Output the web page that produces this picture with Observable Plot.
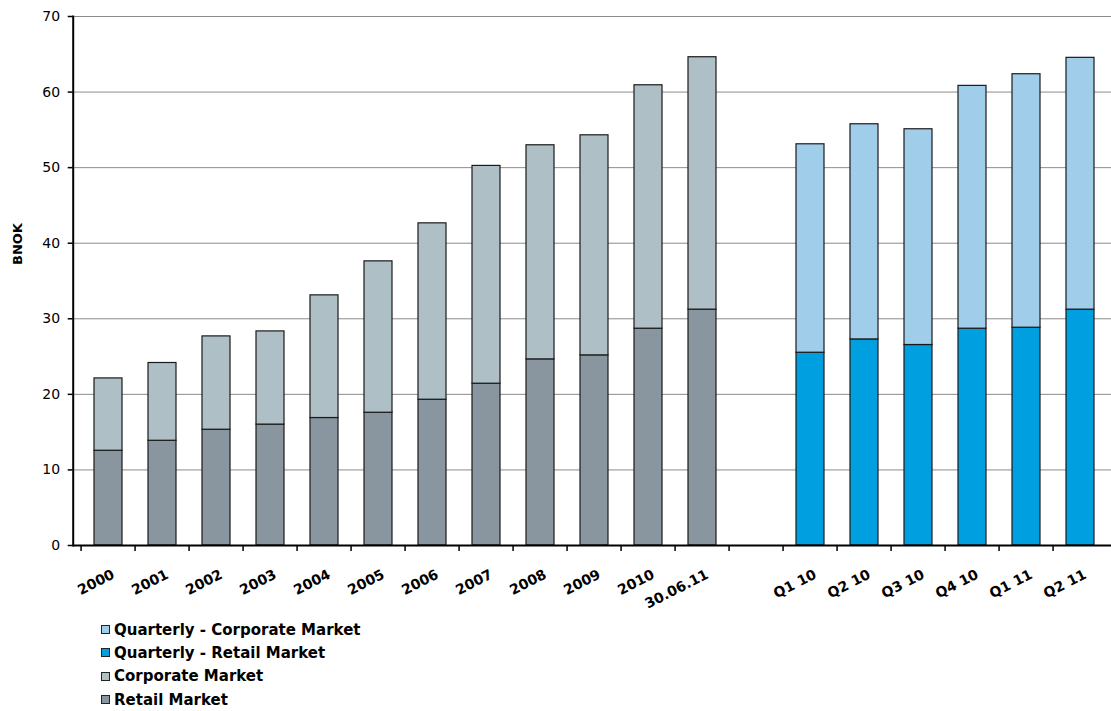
<!DOCTYPE html>
<html><head><meta charset="utf-8">
<script src="https://cdn.jsdelivr.net/npm/d3@7"></script>
<script src="https://cdn.jsdelivr.net/npm/@observablehq/plot@0.6"></script>
<style>
body{margin:0;background:#fff;font-family:"DejaVu Sans",Verdana,sans-serif;overflow:hidden}
#legend{position:absolute;left:101px;top:618px;font-weight:bold;font-size:15px;color:#000}
.row{display:flex;align-items:center;height:23.3px}
.sw{width:7px;height:7px;border:1px solid #222;margin-right:4px}
</style></head><body><div id="chart"></div><div id="legend"></div>
<script>
const annualLabels = ["2000","2001","2002","2003","2004","2005","2006","2007","2008","2009","2010","30.06.11"];
const annualRetail = [12.54,13.86,15.32,16.0,16.87,17.57,19.29,21.41,24.63,25.16,28.69,31.21];
const annualCorporate = [9.57,10.29,12.35,12.33,16.23,20.03,23.34,28.82,28.33,29.12,32.21,33.4];
const quarterLabels = ["Q1 10","Q2 10","Q3 10","Q4 10","Q1 11","Q2 11"];
const quarterRetail = [25.51,27.27,26.53,28.69,28.82,31.21];
const quarterCorporate = [27.58,28.47,28.55,32.13,33.54,33.32];
const gapLabel = " ";
const yTicks = [0,10,20,30,40,50,60,70];
const seriesNames = ["Retail Market","Corporate Market","Quarterly - Retail Market","Quarterly - Corporate Market"];
const seriesColors = ["#8a969f","#aec0c6","#009fdf","#a0ceea"];
const yLabel = "BNOK";

const rows = [];
annualLabels.forEach((c,i)=>{
  rows.push({cat:c, series:seriesNames[0], value:annualRetail[i]});
  rows.push({cat:c, series:seriesNames[1], value:annualCorporate[i]});
});
quarterLabels.forEach((c,i)=>{
  rows.push({cat:c, series:seriesNames[2], value:quarterRetail[i]});
  rows.push({cat:c, series:seriesNames[3], value:quarterCorporate[i]});
});
const domain = [...annualLabels, gapLabel, ...quarterLabels];
const left = 72.7, right = 1114.9;
const step = (right-left)/domain.length;

const chart = Plot.plot({
  width:1111, height:616, marginTop:16, marginBottom:71, marginLeft:left, marginRight:0,
  style:{fontFamily:"DejaVu Sans, Verdana, sans-serif", fontSize:"13px", background:"transparent", color:"#000", overflow:"hidden"},
  x:{domain, range:[left,right], paddingInner:0.49, paddingOuter:0.245, label:null},
  y:{domain:[0,70], label:null},
  color:{domain:seriesNames, range:seriesColors},
  marks:[
    Plot.gridY(yTicks.filter(d=>d>0), {stroke:"#8c8c8c", strokeOpacity:1, strokeWidth:1}),
    Plot.barY(rows, {x:"cat", y:"value", fill:"series", order:seriesNames, stroke:"#1a1a1a", strokeWidth:1.2}),
    Plot.frame({anchor:"left", stroke:"#000", strokeWidth:2}),
    Plot.ruleY([0], {stroke:"#000", strokeWidth:2}),
    Plot.axisY(yTicks, {tickSize:5, tickPadding:8, fontSize:14, label:null, stroke:"#000", strokeWidth:1.5}),
    Plot.axisX({tickSize:0, tickPadding:28, tickRotate:-27, fontWeight:"bold", fontSize:14, dx:5, label:null}),
    Plot.axisX({tickSize:6, tickFormat:()=>"", dx:-step/2, label:null, stroke:"#000", strokeWidth:1.5}),
    Plot.text([yLabel], {frameAnchor:"left", dx:-55, dy:-16, rotate:-90, fontWeight:"bold", fontSize:13})
  ]
});
document.getElementById("chart").append(chart);

const lg = document.getElementById("legend");
[3,2,1,0].forEach(i=>{
  const r = document.createElement("div"); r.className="row";
  const s = document.createElement("span"); s.className="sw"; s.style.background=seriesColors[i];
  const t = document.createElement("span"); t.textContent=seriesNames[i];
  r.append(s,t); lg.append(r);
});
</script></body></html>
